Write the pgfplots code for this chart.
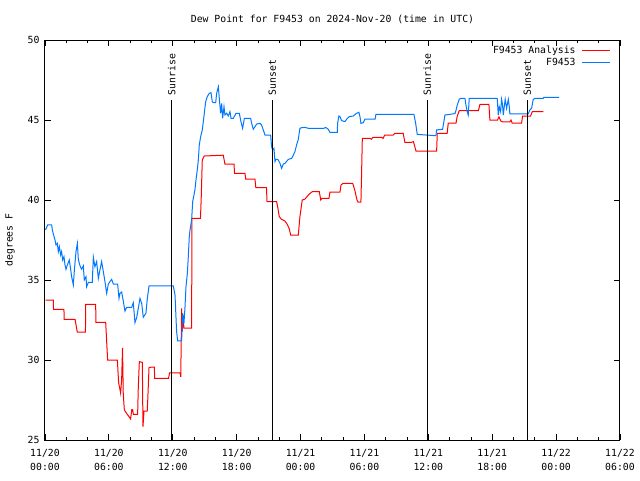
\documentclass[border=0pt]{standalone}
\usepackage{pgfplots}
\pgfplotsset{compat=1.18}
\usepackage{fontspec}
\setmainfont{DejaVu Sans Mono}
\definecolor{anared}{RGB}{255,0,0}
\definecolor{obsblue}{RGB}{0,120,255}
\begin{document}
\begin{tikzpicture}[x=1pt,y=1pt]
\useasboundingbox (-45pt,-40pt) rectangle (595pt,440pt);
\begin{axis}[
  at={(0,0)}, anchor=south west,
  scale only axis, width=575pt, height=400pt,
  xmin=0, xmax=54, ymin=25, ymax=50,
  xtick={0,6,...,54},
  xticklabels={{11/20\\00:00},{11/20\\06:00},{11/20\\12:00},{11/20\\18:00},{11/21\\00:00},{11/21\\06:00},{11/21\\12:00},{11/21\\18:00},{11/22\\00:00},{11/22\\06:00}},
  x tick label style={align=center, font=\fontsize{9.8}{14}\selectfont, yshift=-6pt},
  minor x tick num=2,
  ytick={25,30,...,50},
  y tick label style={font=\fontsize{9.8}{12}\selectfont, xshift=-2pt},
  /pgf/number format/assume math mode=true,
  tick align=inside, xtick pos=both, ytick pos=both,
  major tick length=6pt, minor tick length=3pt,
  tick style={black, line width=0.8pt},
  axis line style={line width=1pt},
  clip=false,
  legend style={at={(rel axis cs:1,1)}, anchor=north east, draw=none, fill=none,
    font=\fontsize{9.8}{11}\selectfont, row sep=-1pt, column sep=4pt, xshift=-6pt, yshift=-2pt},
  legend plot pos=right, legend cell align=right,
  legend image post style={xscale=1.65},
]
\addplot[anared, line width=1pt] coordinates {
(0.05,33.75) (0.78,33.75) (0.8,33.17) (1.78,33.17) (1.8,32.54) (2.82,32.54) (2.9,32.25) (3.03,31.75) (3.8,31.75) (3.82,33.48) (4.76,33.48) (4.78,32.35) (5.7,32.35) (5.75,31.7) (5.88,30.0) (6.8,30.0) (6.85,29.33) (6.92,28.56) (7.0,28.3) (7.1,27.94) (7.2,28.8) (7.28,30.75) (7.35,27.9) (7.45,26.88) (7.73,26.6) (7.85,26.5) (8.04,26.31) (8.15,26.9) (8.23,26.9) (8.3,26.6) (8.7,26.6) (8.76,28.25) (8.86,29.9) (9.14,29.85) (9.2,25.83) (9.3,26.8) (9.6,26.8) (9.65,27.5) (9.77,29.54) (10.27,29.56) (10.3,28.85) (11.6,28.85) (11.7,29.2) (12.68,29.2) (12.75,28.95) (12.83,33.23) (12.9,31.77) (12.95,32.8) (13.05,32.0) (13.77,32.0) (13.8,38.85) (14.6,38.85) (14.68,40.3) (14.77,42.5) (14.96,42.75) (16.74,42.8) (16.9,42.25) (17.75,42.25) (17.8,41.67) (18.78,41.67) (18.85,41.3) (19.72,41.3) (19.8,40.77) (20.8,40.77) (20.85,39.9) (21.75,39.9) (21.85,39.58) (22.0,38.96) (22.2,38.8) (22.5,38.7) (22.7,38.54) (22.94,38.2) (23.07,37.81) (23.79,37.81) (23.94,38.96) (24.16,40.0) (24.4,40.05) (24.8,40.36) (25.1,40.52) (25.76,40.52) (25.9,40.0) (26.0,40.1) (26.67,40.1) (26.76,40.5) (27.7,40.5) (27.8,40.94) (28.0,41.04) (28.9,41.04) (29.1,40.6) (29.3,40.0) (29.4,39.86) (29.67,39.86) (29.74,41.9) (29.8,43.85) (30.5,43.85) (30.65,43.8) (30.8,43.92) (31.6,43.92) (31.75,43.85) (31.9,44.06) (32.7,44.06) (32.86,44.17) (33.64,44.17) (33.8,43.6) (34.4,43.6) (34.6,43.65) (34.84,43.06) (36.78,43.06) (36.84,44.17) (37.77,44.17) (37.87,44.8) (38.6,44.8) (38.7,45.2) (38.9,45.58) (40.7,45.58) (40.85,45.98) (41.69,45.98) (41.78,45.0) (42.5,45.0) (42.63,45.2) (42.8,44.94) (42.97,44.88) (43.66,44.88) (43.76,45.0) (43.88,44.8) (44.76,44.8) (44.85,45.25) (45.6,45.25) (45.76,45.52) (46.8,45.52)
};
\addlegendentry{F9453 Analysis}
\addplot[obsblue, line width=1pt] coordinates {
(0.05,38.13) (0.25,38.44) (0.63,38.44) (0.69,38.13) (0.78,37.88) (0.94,37.5) (1.03,37.19) (1.16,37.29) (1.25,36.77) (1.35,37.08) (1.47,36.56) (1.56,36.77) (1.66,36.25) (1.78,36.46) (1.88,35.94) (1.97,35.67) (2.1,35.94) (2.28,36.25) (2.41,35.67) (2.5,35.21) (2.66,34.69) (2.76,35.63) (2.91,36.77) (3.04,37.29) (3.13,36.29) (3.29,35.88) (3.44,35.67) (3.6,35.88) (3.69,35.0) (3.85,35.21) (3.91,34.58) (4.07,34.85) (4.44,34.85) (4.54,36.42) (4.69,35.83) (4.85,36.15) (5.01,35.1) (5.16,35.63) (5.32,36.15) (5.48,35.52) (5.63,34.9) (5.79,34.17) (5.95,34.75) (6.1,34.9) (6.26,35.04) (6.42,34.75) (6.82,34.75) (6.95,33.85) (7.04,34.17) (7.2,34.25) (7.36,33.65) (7.51,33.06) (7.67,33.29) (8.14,33.29) (8.29,33.58) (8.45,32.33) (8.61,32.65) (8.76,33.23) (8.92,33.85) (9.08,33.54) (9.23,32.67) (9.48,32.92) (9.61,33.85) (9.77,34.63) (12.05,34.63) (12.21,34.06) (12.36,31.77) (12.46,31.19) (12.83,31.19) (12.93,32.92) (13.05,32.29) (13.15,33.33) (13.24,34.58) (13.37,35.42) (13.46,36.46) (13.55,37.71) (13.62,38.13) (13.77,38.75) (13.87,39.9) (13.99,40.31) (14.08,40.63) (14.18,41.25) (14.3,41.88) (14.4,42.5) (14.49,43.44) (14.62,43.96) (14.77,44.38) (14.87,44.9) (14.96,45.42) (15.09,46.15) (15.24,46.46) (15.43,46.67) (15.59,46.71) (15.71,46.15) (15.81,46.08) (16.03,46.08) (16.12,46.67) (16.28,47.08) (16.37,46.35) (16.49,45.42) (16.59,46.04) (16.68,45.1) (16.81,45.83) (16.9,45.31) (17.06,45.42) (17.21,45.25) (17.37,45.52) (17.47,45.1) (17.68,45.1) (17.94,45.42) (18.25,45.42) (18.4,44.9) (18.56,44.48) (18.72,45.1) (19.31,45.1) (19.41,44.79) (19.56,44.42) (19.72,44.58) (19.88,44.75) (20.19,44.79) (20.34,44.69) (20.5,44.38) (20.66,44.06) (21.19,44.06) (21.28,43.33) (21.38,43.13) (21.5,43.23) (21.6,42.4) (21.69,42.54) (21.82,42.54) (21.91,42.5) (22.07,42.29) (22.22,41.98) (22.38,42.25) (22.54,42.29) (22.85,42.54) (23.16,42.6) (23.32,42.81) (23.47,43.02) (23.63,43.44) (23.79,43.79) (23.94,44.48) (24.1,44.52) (24.41,44.54) (24.73,44.48) (26.2,44.48) (26.35,44.54) (26.6,44.42) (26.76,44.23) (27.45,44.23) (27.48,44.79) (27.6,45.25) (27.7,45.21) (27.86,44.96) (28.17,44.9) (28.39,45.1) (28.58,45.21) (28.95,45.25) (29.26,45.42) (29.48,45.48) (29.58,45.21) (29.67,44.79) (29.89,44.83) (30.05,45.06) (31.0,45.06) (31.08,45.35) (34.65,45.35) (34.81,44.79) (34.96,44.1) (36.71,44.02) (36.78,44.38) (37.34,44.42) (37.46,44.9) (37.56,45.31) (38.5,45.4) (38.59,45.58) (38.72,45.94) (38.9,46.29) (39.03,46.35) (39.44,46.35) (39.53,45.94) (39.65,45.52) (39.75,45.31) (39.84,46.35) (42.47,46.35) (42.57,45.31) (42.66,45.83) (42.79,45.52) (42.88,46.29) (42.97,45.94) (43.04,45.31) (43.13,45.83) (43.22,46.29) (43.35,45.73) (43.51,46.29) (43.6,45.83) (43.66,45.38) (45.38,45.38) (45.54,45.63) (45.7,45.73) (45.85,46.29) (46.01,46.35) (46.79,46.35) (46.85,46.42) (48.29,46.42)
};
\addlegendentry{F9453}
% sunrise / sunset markers
\addplot[black, line width=1pt, forget plot] coordinates {(11.9,25) (11.9,46.25)};
\addplot[black, line width=1pt, forget plot] coordinates {(21.35,25) (21.35,46.25)};
\addplot[black, line width=1pt, forget plot] coordinates {(35.9,25) (35.9,46.25)};
\addplot[black, line width=1pt, forget plot] coordinates {(45.29,25) (45.29,46.25)};
\node[rotate=90, anchor=west, inner sep=0pt, font=\fontsize{9.8}{11}\selectfont] at (axis cs:11.9,46.55) {Sunrise};
\node[rotate=90, anchor=west, inner sep=0pt, font=\fontsize{9.8}{11}\selectfont] at (axis cs:21.35,46.55) {Sunset};
\node[rotate=90, anchor=west, inner sep=0pt, font=\fontsize{9.8}{11}\selectfont] at (axis cs:35.9,46.55) {Sunrise};
\node[rotate=90, anchor=west, inner sep=0pt, font=\fontsize{9.8}{11}\selectfont] at (axis cs:45.29,46.55) {Sunset};
\node[font=\fontsize{9.8}{11}\selectfont] at (rel axis cs:0.5,1) [yshift=21pt] {Dew Point for F9453 on 2024-Nov-20 (time in UTC)};
\path (rel axis cs:0,0.5) ++(-35pt,0pt) node[rotate=90, font=\fontsize{9.8}{11}\selectfont] {degrees F};
\end{axis}
\end{tikzpicture}
\end{document}
